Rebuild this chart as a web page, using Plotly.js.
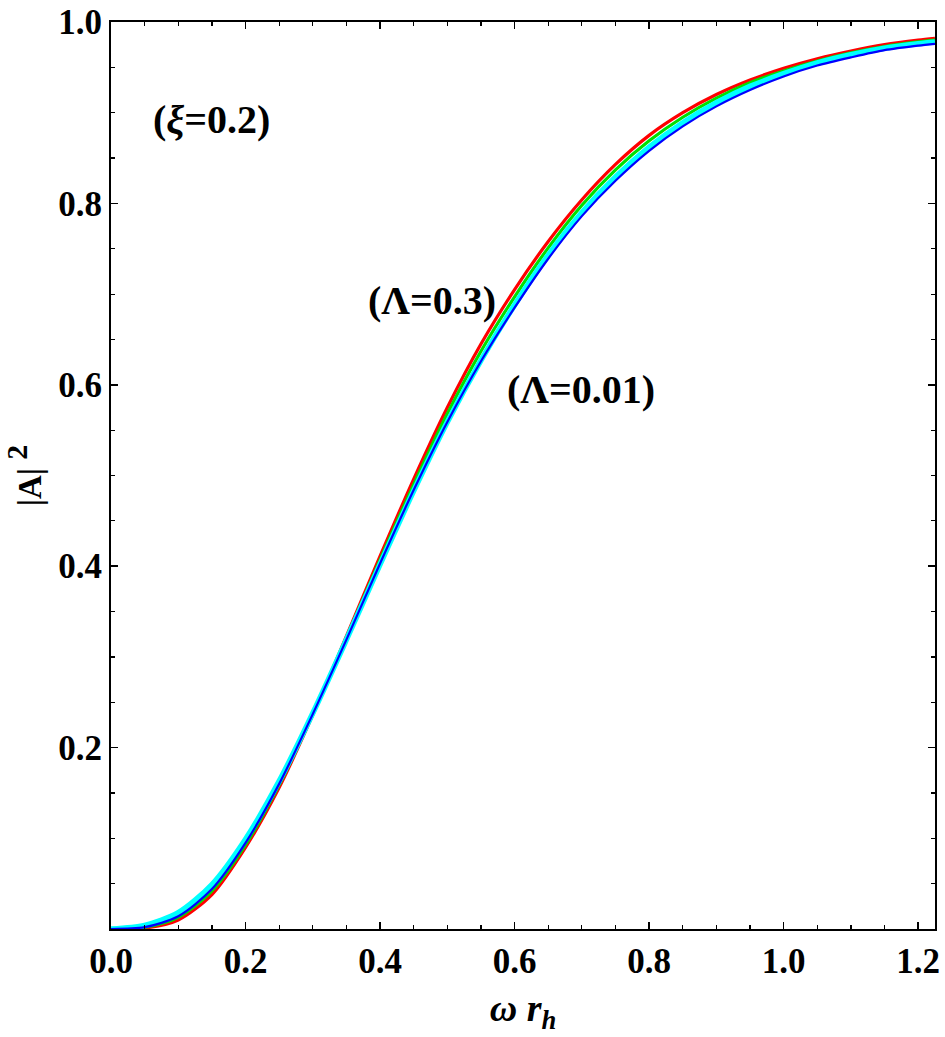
<!DOCTYPE html>
<html>
<head>
<meta charset="utf-8">
<script src="https://cdn.plot.ly/plotly-3.0.1.min.js"></script>
<style>html,body{margin:0;padding:0;background:#fff;}#plot{width:945px;height:1037px;}</style>
</head>
<body>
<div id="plot"></div>
<script>
const omega = [0, 0.05, 0.1, 0.15, 0.2, 0.25, 0.3, 0.35, 0.4, 0.45, 0.5, 0.55, 0.6, 0.65, 0.7, 0.75, 0.8, 0.85, 0.9, 0.95, 1.0, 1.05, 1.1, 1.15, 1.2, 1.225];
const redVals   = [0, 0.001, 0.010, 0.038, 0.090, 0.156, 0.236, 0.323, 0.411, 0.496, 0.575, 0.645, 0.705, 0.758, 0.804, 0.843, 0.875, 0.900, 0.920, 0.936, 0.949, 0.9595, 0.968, 0.975, 0.980, 0.982];
const greenVals = [0, 0.002, 0.013, 0.042, 0.093, 0.159, 0.237, 0.321, 0.407, 0.490, 0.568, 0.637, 0.697, 0.751, 0.798, 0.837, 0.869, 0.895, 0.916, 0.933, 0.946, 0.957, 0.966, 0.973, 0.978, 0.980];
const cyanVals  = [0, 0.004, 0.018, 0.049, 0.099, 0.163, 0.238, 0.319, 0.402, 0.483, 0.559, 0.627, 0.688, 0.743, 0.790, 0.829, 0.862, 0.889, 0.911, 0.929, 0.943, 0.955, 0.964, 0.971, 0.976, 0.978];
const blueVals  = [0, 0.002, 0.014, 0.044, 0.095, 0.160, 0.237, 0.319, 0.403, 0.484, 0.559, 0.626, 0.685, 0.739, 0.786, 0.825, 0.858, 0.885, 0.907, 0.925, 0.940, 0.952, 0.961, 0.969, 0.974, 0.976];
const yTickVals = [0.2, 0.4, 0.6, 0.8, 1.0];
const yTickText = ['0.2', '0.4', '0.6', '0.8', '1.0'];
const xTickVals = [0, 0.2, 0.4, 0.6, 0.8, 1.0, 1.2];
const xTickText = ['0.0', '0.2', '0.4', '0.6', '0.8', '1.0', '1.2'];

const FONT = 'Liberation Serif, Times New Roman, serif';
function tr(y, color, w) {
  return {x: omega, y: y, mode: 'lines', line: {color: color, width: w, shape: 'spline', smoothing: 0.8}, showlegend: false, hoverinfo: 'skip'};
}
const data = [
  tr(redVals, '#ff0000', 3.2),
  tr(greenVals, '#00e000', 3.2),
  tr(cyanVals, '#00ffff', 5.5),
  tr(blueVals, '#0000ff', 2.2)
];
const axisCommon = {
  showgrid: false, zeroline: false, showline: true, linecolor: '#000', linewidth: 2,
  mirror: 'ticks', ticks: 'inside', ticklen: 7, tickwidth: 1.5, tickcolor: '#000',
  tickfont: {family: FONT, size: 35, color: '#000', weight: 'bold'}
};
const layout = {
  width: 945, height: 1037,
  margin: {l: 111, r: 10, t: 22, b: 108},
  paper_bgcolor: '#fff', plot_bgcolor: '#fff',
  font: {family: FONT, color: '#000'},
  xaxis: Object.assign({}, axisCommon, {
    range: [0, 1.225], tickmode: 'array', tickvals: xTickVals, ticktext: xTickText,
    minor: {tickmode: 'linear', tick0: 0, dtick: 0.05, ticks: 'inside', ticklen: 4, tickwidth: 1.2, tickcolor: '#000'},
    title: {text: '<i>ω r<sub>h</sub></i>', font: {family: FONT, size: 38, color: '#000', weight: 'bold'}, standoff: 14}
  }),
  yaxis: Object.assign({}, axisCommon, {
    range: [0, 1.0], tickmode: 'array', tickvals: yTickVals, ticktext: yTickText,
    minor: {tickmode: 'linear', tick0: 0, dtick: 0.05, ticks: 'inside', ticklen: 4, tickwidth: 1.2, tickcolor: '#000'},
    title: {text: '|A| <sup><span style="font-size:30px">2</span></sup>', font: {family: FONT, size: 33, color: '#000', weight: 'bold'}, standoff: 22}
  }),
  annotations: [
    {x: 211, y: 120, text: '(<i>ξ</i>=0.2)'},
    {x: 432, y: 300, text: '(Λ=0.3)'},
    {x: 581, y: 390, text: '(Λ=0.01)'}
  ].map(a => Object.assign(a, {showarrow: false, font: {family: FONT, size: 40, color: '#000', weight: 'bold'}}))
};
// convert pixel-positioned annotations to paper coordinates
const L = 111, T = 22, W = 945 - 111 - 10, H = 1037 - 22 - 108;
layout.annotations.forEach(a => {
  a.xref = 'paper'; a.yref = 'paper';
  a.x = (a.x - L) / W; a.y = 1 - (a.y - T) / H;
  a.xanchor = 'center'; a.yanchor = 'middle';
});
Plotly.newPlot('plot', data, layout, {displayModeBar: false, staticPlot: true});
</script>
</body>
</html>
